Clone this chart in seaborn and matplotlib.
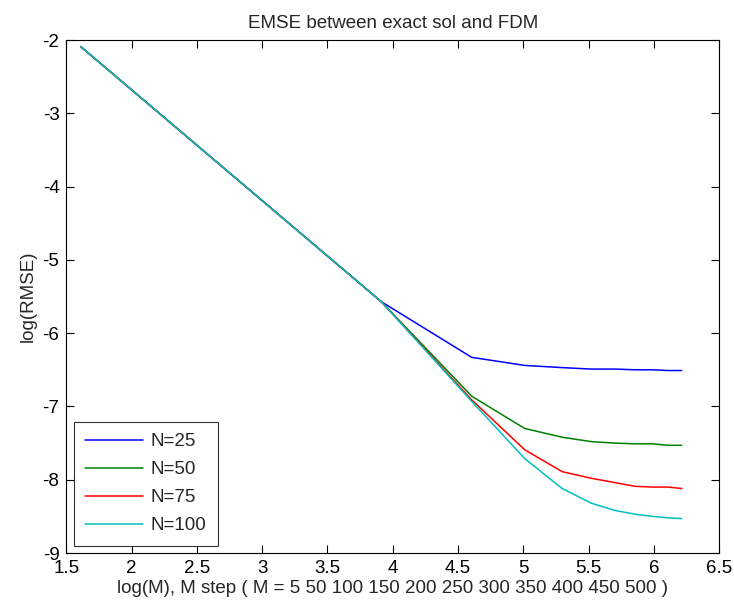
import numpy as np
import pandas as pd
import matplotlib
matplotlib.use("Agg")
import matplotlib.pyplot as plt
import seaborn as sns

M_values = [5, 50, 100, 150, 200, 250, 300, 350, 400, 450, 500]
series_labels = ["N=25", "N=50", "N=75", "N=100"]
rmse_n25 = [-2.09, -5.57, -6.33, -6.44, -6.47, -6.49, -6.49, -6.50, -6.50, -6.51, -6.51]
rmse_n50 = [-2.09, -5.57, -6.86, -7.30, -7.42, -7.48, -7.50, -7.51, -7.51, -7.53, -7.53]
rmse_n75 = [-2.09, -5.57, -6.91, -7.59, -7.89, -7.98, -8.04, -8.09, -8.10, -8.10, -8.12]
rmse_n100 = [-2.09, -5.57, -6.93, -7.71, -8.12, -8.32, -8.42, -8.47, -8.50, -8.52, -8.53]
line_colors = ["#0000ff", "#008000", "#ff0000", "#00bfbf"]

logM = np.log(M_values)
frames = []
for lab, vals in zip(series_labels, [rmse_n25, rmse_n50, rmse_n75, rmse_n100]):
    frames.append(pd.DataFrame({"logM": logM, "logRMSE": vals, "series": lab}))
df = pd.concat(frames, ignore_index=True)

sns.set_theme(style="ticks")
plt.rcParams["font.family"] = ["Liberation Sans", "DejaVu Sans"]

fs = 13.5
fig = plt.figure(figsize=(7.34, 6.10), dpi=100, facecolor="white")
ax = fig.add_axes([0.0905, 0.0934, 0.8891, 0.8410])

sns.lineplot(data=df, x="logM", y="logRMSE", hue="series", hue_order=series_labels,
             palette=line_colors, sort=False, linewidth=1.1, ax=ax, legend=False)

ax.set_xlim(1.5, 6.5)
ax.set_ylim(-9, -2)
ax.set_xticks(np.arange(1.5, 6.51, 0.5))
ax.set_xticklabels(["1.5", "2", "2.5", "3", "3.5", "4", "4.5", "5", "5.5", "6", "6.5"])
ax.set_yticks(np.arange(-9, -1.9, 1))
ax.set_yticklabels([f"{v:d}" for v in range(-9, -1)])
ax.tick_params(direction="in", top=True, right=True, length=5.5, width=0.8,
               labelsize=fs, colors="black", pad=5)
for sp in ax.spines.values():
    sp.set_visible(True)
    sp.set_color("black")
    sp.set_linewidth(0.8)

ax.set_title("EMSE between exact sol and FDM", fontsize=fs, pad=9)
ax.set_xlabel("log(M), M step ( M = 5 50 100 150 200 250 300 350 400 450 500 )",
              fontsize=fs, labelpad=2)
ax.set_ylabel("log(RMSE)", fontsize=fs, labelpad=4)

handles = [plt.Line2D([], [], color=c, linewidth=1.1) for c in line_colors]
leg = ax.legend(handles, series_labels, loc="lower left", fontsize=fs,
                handlelength=3.1, frameon=True, fancybox=False, borderaxespad=0.4,
                labelspacing=0.58, borderpad=0.6, handletextpad=0.4)
leg.get_frame().set_edgecolor("black")
leg.get_frame().set_linewidth(0.8)

fig.savefig("out.png", dpi=100, facecolor="white")
